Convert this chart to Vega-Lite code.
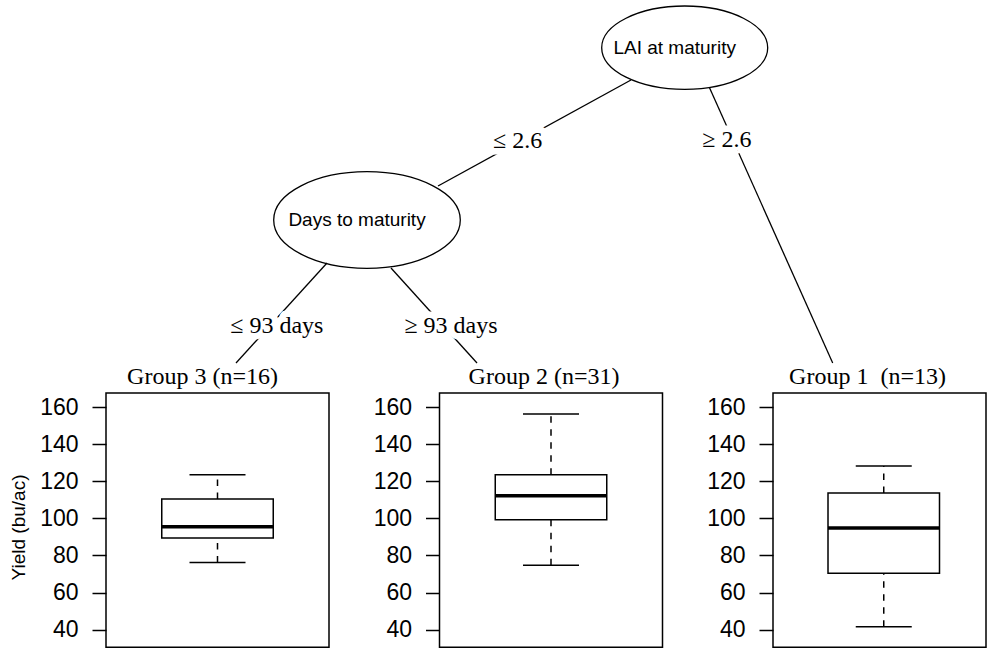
{
  "$schema": "https://vega.github.io/schema/vega-lite/v6.json",
  "padding": {"left": 8, "top": 0, "right": 0, "bottom": 0},
  "background": "white",
  "spacing": 0,
  "config": {
    "font": "Liberation Sans",
    "view": {"stroke": "black", "strokeWidth": 1.5},
    "axisY": {
      "labelFont": "Liberation Sans", "labelFontSize": 23, "labelColor": "black",
      "tickColor": "black", "tickSize": 14, "tickWidth": 1.5, "labelPadding": 14,
      "domain": false, "grid": false,
      "titleFont": "Liberation Sans", "titleFontSize": 19, "titleFontWeight": "normal",
      "titleColor": "black", "titlePadding": 11
    },
    "title": {"font": "Liberation Serif", "fontSize": 24, "fontWeight": "normal", "color": "black", "baseline": "alphabetic", "offset": 4, "frame": "group", "anchor": "middle"}
  },
  "datasets": {
    "boxes": [
      {"group": "Group 3", "lower": 76.2, "q1": 89.4, "median": 95.5, "q3": 110.5, "upper": 123.6},
      {"group": "Group 2", "lower": 74.8, "q1": 99.3, "median": 112.3, "q3": 123.6, "upper": 156.4},
      {"group": "Group 1", "lower": 41.6, "q1": 70.4, "median": 94.8, "q3": 113.7, "upper": 128.3}
    ],
    "nodes": [
      {"node": "LAI at maturity", "x": 683.7, "y": 47.7},
      {"node": "Days to maturity", "x": 366, "y": 220}
    ],
    "edges": [
      {"x1": 630, "y1": 80, "x2": 437, "y2": 186},
      {"x1": 708.3, "y1": 87.3, "x2": 831.7, "y2": 363},
      {"x1": 326, "y1": 263, "x2": 235, "y2": 363},
      {"x1": 390, "y1": 268, "x2": 476, "y2": 363}
    ],
    "labels": [
      {"text": "≤ 2.6", "x": 516.7, "y": 148},
      {"text": "≥ 2.6", "x": 725.8, "y": 147},
      {"text": "≤ 93 days", "x": 275.8, "y": 333},
      {"text": "≥ 93 days", "x": 450, "y": 333}
    ]
  },
  "vconcat": [
    {
      "width": 882,
      "height": 364,
      "view": {"stroke": null},
      "layer": [
        {
          "data": {"name": "edges"},
          "mark": {"type": "rule", "color": "black", "strokeWidth": 1.3},
          "encoding": {
            "x": {"field": "x1", "type": "quantitative", "scale": {"domain": [105, 987], "nice": false, "zero": false}, "axis": null},
            "y": {"field": "y1", "type": "quantitative", "scale": {"domain": [0, 364], "reverse": true, "nice": false, "zero": false}, "axis": null},
            "x2": {"field": "x2"},
            "y2": {"field": "y2"}
          }
        },
        {
          "data": {"name": "nodes"},
          "mark": {"type": "point", "filled": false, "color": "black", "strokeWidth": 1.3, "opacity": 1, "size": 40000},
          "encoding": {
            "x": {"field": "x", "type": "quantitative", "axis": null},
            "y": {"field": "y", "type": "quantitative", "axis": null},
            "shape": {
              "field": "node", "type": "nominal", "legend": null,
              "scale": {
                "domain": ["LAI at maturity", "Days to maturity"],
                "range": [
                  "M -0.83 0 C -0.83 -0.2303 -0.4584 -0.417 0 -0.417 C 0.4584 -0.417 0.83 -0.2303 0.83 0 C 0.83 0.2303 0.4584 0.417 0 0.417 C -0.4584 0.417 -0.83 0.2303 -0.83 0 Z",
                  "M -0.933 0 C -0.933 -0.2668 -0.5153 -0.483 0 -0.483 C 0.5153 -0.483 0.933 -0.2668 0.933 0 C 0.933 0.2668 0.5153 0.483 0 0.483 C -0.5153 0.483 -0.933 0.2668 -0.933 0 Z"
                ]
              }
            }
          }
        },
        {
          "data": {"name": "nodes"},
          "mark": {"type": "text", "font": "Liberation Sans", "fontSize": 19, "dx": -10, "baseline": "middle", "align": "center", "color": "black"},
          "encoding": {
            "x": {"field": "x", "type": "quantitative", "axis": null},
            "y": {"field": "y", "type": "quantitative", "axis": null},
            "text": {"field": "node"}
          }
        },
        {
          "data": {"name": "labels"},
          "mark": {"type": "text", "font": "Liberation Serif", "fontSize": 24, "baseline": "alphabetic", "align": "center", "fill": "white", "stroke": "white", "strokeWidth": 13, "strokeJoin": "round"},
          "encoding": {
            "x": {"field": "x", "type": "quantitative", "axis": null},
            "y": {"field": "y", "type": "quantitative", "axis": null},
            "text": {"field": "text"}
          }
        },
        {
          "data": {"name": "labels"},
          "mark": {"type": "text", "font": "Liberation Serif", "fontSize": 24, "baseline": "alphabetic", "align": "center", "color": "black"},
          "encoding": {
            "x": {"field": "x", "type": "quantitative", "axis": null},
            "y": {"field": "y", "type": "quantitative", "axis": null},
            "text": {"field": "text"}
          }
        }
      ]
    },
    {
      "spacing": 41.5,
      "hconcat": [
        {
          "width": 223,
          "height": 254.3,
          "title": {"text": "Group 3 (n=16)", "dx": -15},
          "data": {"name": "boxes"},
          "transform": [{"filter": "datum.group == 'Group 3'"}],
          "encoding": {
            "x": {"field": "group", "type": "nominal", "axis": null, "scale": {"paddingInner": 0, "paddingOuter": 0.5}}
          },
          "layer": [
            {
              "mark": {"type": "rule", "color": "black", "strokeWidth": 1.5, "strokeDash": [6.5, 6.5]},
              "encoding": {
                "y": {"field": "q3", "type": "quantitative", "title": "Yield (bu/ac)", "scale": {"domain": [30.45, 167.7], "nice": false, "zero": false}, "axis": {"values": [40, 60, 80, 100, 120, 140, 160], "titleY": 134}},
                "y2": {"field": "upper"}
              }
            },
            {
              "mark": {"type": "rule", "color": "black", "strokeWidth": 1.5, "strokeDash": [6.5, 6.5]},
              "encoding": {
                "y": {"field": "lower", "type": "quantitative", "title": "Yield (bu/ac)"},
                "y2": {"field": "q1"}
              }
            },
            {
              "mark": {"type": "bar", "fill": "white", "stroke": "black", "strokeWidth": 1.5, "width": {"band": 1}},
              "encoding": {
                "y": {"field": "q1", "type": "quantitative", "title": "Yield (bu/ac)"},
                "y2": {"field": "q3"}
              }
            },
            {
              "mark": {"type": "tick", "color": "black", "size": 111.5, "thickness": 3.5, "opacity": 1},
              "encoding": {"y": {"field": "median", "type": "quantitative", "title": "Yield (bu/ac)"}}
            },
            {
              "mark": {"type": "tick", "color": "black", "size": 56, "thickness": 1.5, "opacity": 1},
              "encoding": {"y": {"field": "upper", "type": "quantitative", "title": "Yield (bu/ac)"}}
            },
            {
              "mark": {"type": "tick", "color": "black", "size": 56, "thickness": 1.5, "opacity": 1},
              "encoding": {"y": {"field": "lower", "type": "quantitative", "title": "Yield (bu/ac)"}}
            }
          ]
        },
        {
          "width": 223,
          "height": 254.3,
          "title": {"text": "Group 2 (n=31)", "dx": -7},
          "data": {"name": "boxes"},
          "transform": [{"filter": "datum.group == 'Group 2'"}],
          "encoding": {
            "x": {"field": "group", "type": "nominal", "axis": null, "scale": {"paddingInner": 0, "paddingOuter": 0.5}}
          },
          "layer": [
            {
              "mark": {"type": "rule", "color": "black", "strokeWidth": 1.5, "strokeDash": [6.5, 6.5]},
              "encoding": {
                "y": {"field": "q3", "type": "quantitative", "title": null, "scale": {"domain": [30.45, 167.7], "nice": false, "zero": false}, "axis": {"values": [40, 60, 80, 100, 120, 140, 160]}},
                "y2": {"field": "upper"}
              }
            },
            {
              "mark": {"type": "rule", "color": "black", "strokeWidth": 1.5, "strokeDash": [6.5, 6.5]},
              "encoding": {
                "y": {"field": "lower", "type": "quantitative", "title": null},
                "y2": {"field": "q1"}
              }
            },
            {
              "mark": {"type": "bar", "fill": "white", "stroke": "black", "strokeWidth": 1.5, "width": {"band": 1}},
              "encoding": {
                "y": {"field": "q1", "type": "quantitative", "title": null},
                "y2": {"field": "q3"}
              }
            },
            {
              "mark": {"type": "tick", "color": "black", "size": 111.5, "thickness": 3.5, "opacity": 1},
              "encoding": {"y": {"field": "median", "type": "quantitative", "title": null}}
            },
            {
              "mark": {"type": "tick", "color": "black", "size": 56, "thickness": 1.5, "opacity": 1},
              "encoding": {"y": {"field": "upper", "type": "quantitative", "title": null}}
            },
            {
              "mark": {"type": "tick", "color": "black", "size": 56, "thickness": 1.5, "opacity": 1},
              "encoding": {"y": {"field": "lower", "type": "quantitative", "title": null}}
            }
          ]
        },
        {
          "width": 213,
          "height": 254.3,
          "title": {"text": "Group 1\u00a0 (n=13)", "dx": -12},
          "data": {"name": "boxes"},
          "transform": [{"filter": "datum.group == 'Group 1'"}],
          "encoding": {
            "x": {"field": "group", "type": "nominal", "axis": null, "scale": {"paddingInner": 0, "paddingOuter": 0.4552, "align": 0.5419}}
          },
          "layer": [
            {
              "mark": {"type": "rule", "color": "black", "strokeWidth": 1.5, "strokeDash": [6.5, 6.5]},
              "encoding": {
                "y": {"field": "q3", "type": "quantitative", "title": null, "scale": {"domain": [30.45, 167.7], "nice": false, "zero": false}, "axis": {"values": [40, 60, 80, 100, 120, 140, 160]}},
                "y2": {"field": "upper"}
              }
            },
            {
              "mark": {"type": "rule", "color": "black", "strokeWidth": 1.5, "strokeDash": [6.5, 6.5]},
              "encoding": {
                "y": {"field": "lower", "type": "quantitative", "title": null},
                "y2": {"field": "q1"}
              }
            },
            {
              "mark": {"type": "bar", "fill": "white", "stroke": "black", "strokeWidth": 1.5, "width": {"band": 1}},
              "encoding": {
                "y": {"field": "q1", "type": "quantitative", "title": null},
                "y2": {"field": "q3"}
              }
            },
            {
              "mark": {"type": "tick", "color": "black", "size": 111.5, "thickness": 3.5, "opacity": 1},
              "encoding": {"y": {"field": "median", "type": "quantitative", "title": null}}
            },
            {
              "mark": {"type": "tick", "color": "black", "size": 56, "thickness": 1.5, "opacity": 1},
              "encoding": {"y": {"field": "upper", "type": "quantitative", "title": null}}
            },
            {
              "mark": {"type": "tick", "color": "black", "size": 56, "thickness": 1.5, "opacity": 1},
              "encoding": {"y": {"field": "lower", "type": "quantitative", "title": null}}
            }
          ]
        }
      ]
    }
  ]
}
